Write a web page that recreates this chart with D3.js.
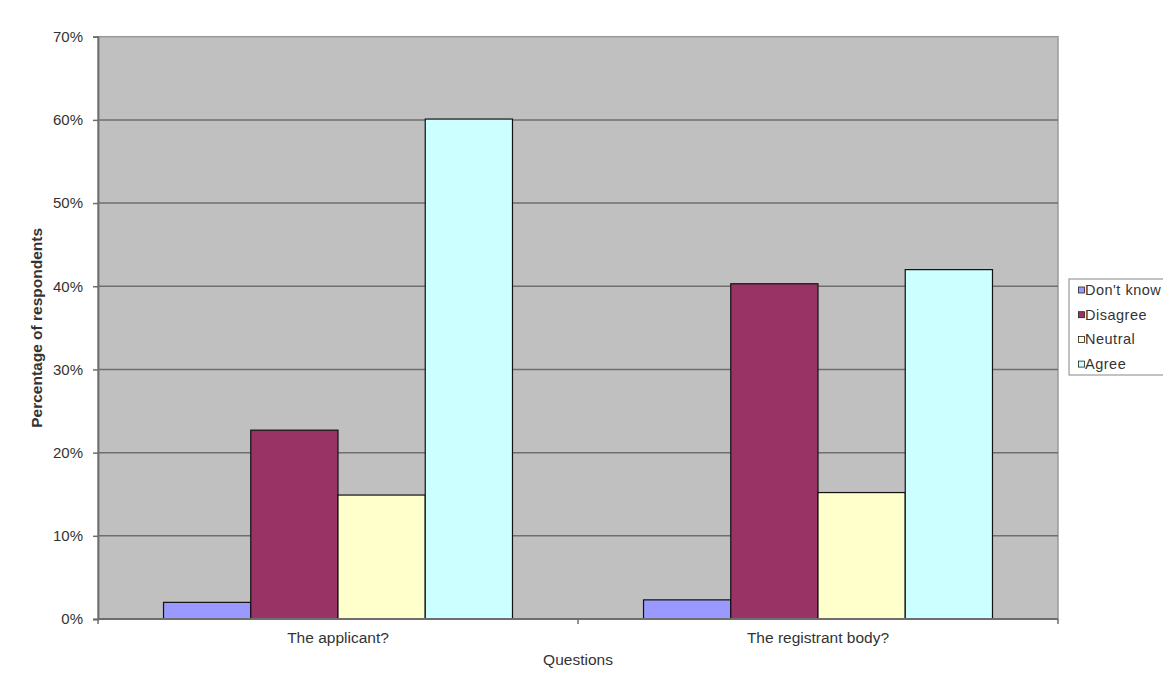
<!DOCTYPE html>
<html>
<head>
<meta charset="utf-8">
<script src="https://cdn.jsdelivr.net/npm/d3@7"></script>
<style>
  html, body { margin: 0; padding: 0; background: #ffffff; }
  svg { display: block; font-family: "Liberation Sans", Arial, sans-serif; }
</style>
</head>
<body>
<svg id="chart" width="1163" height="695"></svg>
<script>
// ---- data ----
const categories = ["The applicant?", "The registrant body?"];
const seriesNames = ["Don't know", "Disagree", "Neutral", "Agree"];
const dontKnow = [0.020, 0.023];
const disagree = [0.227, 0.403];
const neutral  = [0.149, 0.152];
const agree    = [0.601, 0.420];
const yTicks = [0, 0.1, 0.2, 0.3, 0.4, 0.5, 0.6, 0.7];
const seriesColors = ["#9999FF", "#993366", "#FFFFCC", "#CCFFFF"];
const yTitle = "Percentage of respondents";
const xTitle = "Questions";

const seriesValues = [dontKnow, disagree, neutral, agree];

// ---- layout ----
const svg = d3.select("#chart");
const plot = { left: 98, right: 1058, top: 36.7, bottom: 619 };

const y = d3.scaleLinear().domain([0, 0.7]).range([plot.bottom, plot.top]);
const x0 = d3.scaleBand().domain(categories).range([plot.left, plot.right])
  .paddingInner(0.273).paddingOuter(0.1365);
const x1 = d3.scaleBand().domain(seriesNames).range([0, x0.bandwidth()]).padding(0);

// plot background
svg.append("rect")
  .attr("x", plot.left).attr("y", plot.top)
  .attr("width", plot.right - plot.left).attr("height", plot.bottom - plot.top)
  .attr("fill", "#c0c0c0")
  .attr("stroke", "#9a9a9a").attr("stroke-width", 1.5);

// gridlines
svg.append("g").selectAll("line").data(yTicks.filter(t => t > 0 && t < 0.7)).join("line")
  .attr("x1", plot.left).attr("x2", plot.right)
  .attr("y1", d => y(d)).attr("y2", d => y(d))
  .attr("stroke", "#6e6e6e").attr("stroke-width", 1.5);

// bars
const groups = svg.append("g").selectAll("g").data(categories).join("g")
  .attr("transform", d => `translate(${x0(d)},0)`);
groups.selectAll("rect")
  .data((c, ci) => seriesNames.map((s, si) => ({ s, si, v: seriesValues[si][ci] })))
  .join("rect")
  .attr("x", d => x1(d.s))
  .attr("y", d => y(d.v))
  .attr("width", x1.bandwidth())
  .attr("height", d => y(0) - y(d.v))
  .attr("fill", d => seriesColors[d.si])
  .attr("stroke", "#111").attr("stroke-width", 1.2);

// y axis
const yAxis = d3.axisLeft(y).tickValues(yTicks).tickFormat(d3.format(".0%")).tickSize(5).tickPadding(10);
const gy = svg.append("g").attr("transform", `translate(${plot.left},0)`).call(yAxis);
gy.select(".domain").attr("stroke", "#6e6e6e").attr("stroke-width", 1.8);
gy.selectAll(".tick line").attr("stroke", "#6e6e6e").attr("stroke-width", 1.5);
gy.selectAll(".tick text").attr("font-size", 15).attr("fill", "#333")
  .attr("font-family", "Liberation Sans, Arial, sans-serif");

// x axis
const xEdge = d3.scaleLinear().domain([0, categories.length]).range([plot.left, plot.right]);
const gx = svg.append("g").attr("transform", `translate(0,${plot.bottom})`);
gx.append("line").attr("x1", plot.left).attr("x2", plot.right).attr("y1", 0).attr("y2", 0)
  .attr("stroke", "#6e6e6e").attr("stroke-width", 1.8);
gx.selectAll("line.tk").data(d3.range(categories.length + 1)).join("line").attr("class", "tk")
  .attr("x1", d => xEdge(d)).attr("x2", d => xEdge(d)).attr("y1", 0).attr("y2", 5)
  .attr("stroke", "#6e6e6e").attr("stroke-width", 1.5);
gx.selectAll("text").data(categories).join("text")
  .attr("x", d => x0(d) + x0.bandwidth() / 2)
  .attr("y", 24)
  .attr("text-anchor", "middle")
  .attr("font-size", 15.5).attr("fill", "#333")
  .text(d => d);

// axis titles
svg.append("text")
  .attr("transform", `translate(42,${(plot.top + plot.bottom) / 2}) rotate(-90)`)
  .attr("text-anchor", "middle")
  .attr("font-size", 15.5).attr("font-weight", "bold").attr("fill", "#333")
  .text(yTitle);
svg.append("text")
  .attr("x", (plot.left + plot.right) / 2).attr("y", 665)
  .attr("text-anchor", "middle")
  .attr("font-size", 15.5).attr("fill", "#333")
  .text(xTitle);

// legend
const lg = svg.append("g").attr("transform", "translate(1069,279)");
lg.append("rect").attr("x", 0).attr("y", 0).attr("width", 110).attr("height", 96)
  .attr("fill", "#ffffff").attr("stroke", "#9a9a9a").attr("stroke-width", 1.2);
const items = lg.selectAll("g").data(seriesNames).join("g")
  .attr("transform", (d, i) => `translate(0,${11 + i * 24.7})`);
items.append("rect").attr("x", 9.5).attr("y", -3).attr("width", 6).attr("height", 6)
  .attr("fill", (d, i) => seriesColors[i]).attr("stroke", "#222").attr("stroke-width", 0.8);
items.append("text").attr("x", 16).attr("y", 5)
  .attr("font-size", 14.5).attr("letter-spacing", 0.5).attr("fill", "#333")
  .text(d => d);
</script>
</body>
</html>
